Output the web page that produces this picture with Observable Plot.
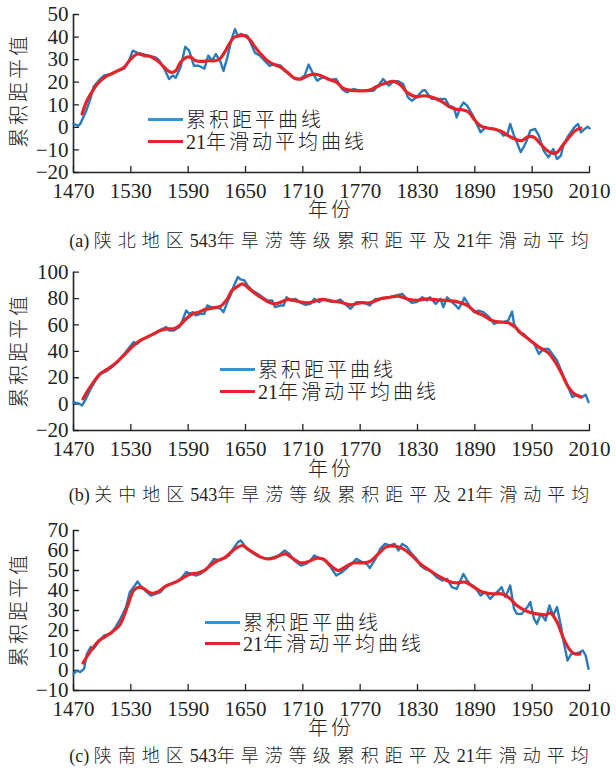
<!DOCTYPE html>
<html>
<head>
<meta charset="utf-8">
<script src="https://cdn.jsdelivr.net/npm/d3@7"></script>
<script src="https://cdn.jsdelivr.net/npm/@observablehq/plot@0.6"></script>
<style>
  html, body { margin: 0; padding: 0; background: #ffffff; }
  #wrap { position: relative; width: 616px; height: 769px; overflow: hidden; background: #fff;
          font-family: "Liberation Serif", "Noto Sans CJK SC", serif; color: #222; }
  .abs { position: absolute; white-space: nowrap; }
  .cjk { font-family: "Noto Sans CJK SC", sans-serif; font-weight: 300; }
</style>
</head>
<body>
<div id="wrap"></div>
<script>
// ---------------- data ----------------
const xTicks = [1470, 1530, 1590, 1650, 1710, 1770, 1830, 1890, 1950, 2010];
const legendBlue = "累积距平曲线";
const legendRed = "21年滑动平均曲线";
const yLabel = "累积距平值";
const xLabel = "年份";

// (a) 陕北
const northYears = [1470,1475,1477,1483,1488,1491,1497,1502,1509,1516,1523,1528,1532,1537,1542,1549,1556,1560,1565,1570,1574,1577,1582,1587,1591,1596,1601,1607,1611,1615,1619,1624,1627,1631,1635,1639,1642,1645,1648,1652,1655,1660,1665,1670,1675,1680,1687,1691,1697,1702,1707,1712,1716,1720,1725,1730,1735,1739,1745,1751,1756,1763,1770,1777,1784,1789,1794,1800,1805,1810,1815,1820,1824,1829,1835,1838,1842,1845,1850,1856,1859,1863,1868,1871,1875,1878,1882,1885,1889,1892,1896,1901,1906,1911,1917,1920,1924,1927,1931,1934,1938,1941,1945,1948,1953,1957,1962,1967,1972,1976,1980,1983,1988,1994,1998,2001,2005,2008,2010];
const northCum = [1.5,0.7,1.5,7,13,18,21,23,23.6,25,26,29.5,34,33,32.5,31.7,31,29.5,26,21.4,23,22,26.6,35.7,34,27.3,27.3,26,31.8,29.5,32.5,28.8,25,31,38.4,43.5,40.6,41.4,41,40.6,37.7,33,31.8,29.5,27.3,28,27.3,25,23,21.4,21.4,23,27.8,24.4,20.7,22,22,21,21.4,17,15.5,17,16.2,16.2,16.2,18.5,21.4,18.5,20.4,20.4,19.2,13.3,11.8,13.3,16.2,16.5,14,12.6,12.6,12.6,12.6,9.6,8.9,4.4,8.9,11,9.6,7.4,4.4,1.5,-2.2,0,-0.7,-0.7,-2.2,-3.7,-3,1.5,-3.7,-6.6,-11,-8.9,-5.2,-1.5,-0.7,-3.7,-10.3,-13.3,-9.6,-14,-12.6,-7.4,-3.7,0,1.5,-2.2,-0.7,0.3,-0.5];
const northMAYears = [1479,1484,1490,1495,1502,1509,1516,1523,1530,1537,1544,1551,1558,1565,1572,1577,1582,1588,1593,1598,1604,1611,1618,1623,1628,1633,1638,1644,1649,1654,1659,1666,1673,1680,1687,1694,1701,1708,1715,1722,1729,1736,1745,1752,1759,1770,1780,1787,1796,1805,1812,1819,1828,1836,1843,1854,1863,1870,1878,1884,1889,1896,1903,1910,1918,1925,1932,1939,1946,1952,1959,1965,1972,1976,1983,1990,1995,2001];
const northMA = [5.9,11.8,16.2,19.2,22,23.6,25,26.6,30.3,32.5,31.8,31.3,29.5,26.6,24.4,25.1,28.8,31,31,29.5,29.2,29.5,29.5,30.3,33.2,36.9,39.9,40.6,40.6,39.1,36.2,32.5,29.5,27.8,26.6,24.4,21.9,21.4,22.9,23.6,22.9,21.4,20,17.4,16.5,16.2,16.5,18,19.5,20.4,18.9,15.5,13.6,14,13.6,11.8,9.2,8.1,7.7,6.6,3.7,0.7,-0.3,-0.7,-1.8,-3.7,-5.2,-5.9,-4.1,-4.4,-7.4,-10,-11.5,-11.1,-7.4,-3.7,-1.5,-0.3];

// (b) 关中
const centralYears = [1470,1476,1479,1483,1488,1493,1498,1504,1509,1516,1523,1530,1533,1537,1540,1547,1554,1561,1567,1570,1575,1581,1584,1588,1591,1595,1598,1603,1607,1610,1614,1619,1624,1627,1631,1635,1638,1642,1645,1649,1652,1657,1663,1668,1673,1678,1681,1687,1690,1693,1697,1702,1708,1713,1718,1722,1727,1732,1738,1744,1749,1754,1760,1766,1773,1780,1786,1791,1796,1801,1808,1814,1819,1824,1829,1835,1840,1843,1849,1854,1857,1861,1866,1870,1873,1877,1879,1884,1889,1894,1899,1905,1910,1915,1920,1925,1929,1931,1936,1941,1946,1952,1957,1962,1967,1971,1976,1981,1987,1992,1997,2002,2006,2009];
const centralCum = [1.5,0.3,-1,4,11.6,18,23,24.8,27.3,31.8,38,44.5,47,45.7,48.3,50.8,53.3,56.3,58.4,55.8,55.8,58.4,63.4,71,68.5,69.7,67.2,68.5,68.5,74.8,73.5,73.5,72.3,69.7,77.3,83.6,90,96.3,94.5,93.7,90,86.2,83.6,81,78.6,78.6,73.5,74.8,74.8,81,78.6,79.8,76.8,75.3,76,79.8,77.3,79.8,77.8,77.8,79.3,76,72.3,77.3,77.3,74.8,79.8,79.8,80.3,81,82.4,83.6,79.8,76.8,77.3,81,78.6,81,76,79.8,73.5,81,77.3,74.8,72.3,77.3,80.6,74.8,69.7,70.9,69.7,65.9,60.9,62.2,62.2,63.4,70.2,60.9,54.6,53.3,49.5,45.7,38.1,41.9,41.9,38.1,33.1,24.3,14.1,5.3,7.1,5.3,7.1,1.5];
const centralMAYears = [1480,1484,1491,1498,1505,1512,1519,1526,1533,1540,1547,1554,1561,1568,1575,1581,1588,1595,1601,1608,1615,1624,1631,1636,1642,1647,1652,1659,1666,1673,1680,1687,1694,1701,1708,1715,1722,1729,1736,1743,1749,1760,1770,1780,1791,1801,1810,1819,1829,1840,1850,1861,1873,1882,1891,1899,1908,1917,1925,1932,1939,1948,1957,1966,1973,1980,1987,1994,2001];
const centralMA = [4,9.1,16.7,23,26.3,29.8,34.4,39.4,44.5,48.3,50.8,53.3,55.8,57.1,57.1,59.6,64.7,68.5,69.7,71.8,72.8,74.3,79.8,86.2,89.4,91.2,88.7,84.4,81,77.8,76,77.3,79.3,78.6,77.3,76.8,77.8,79.3,78.8,77.8,77.3,75.3,76.8,76.8,79.8,81,81.9,79.8,78.6,79.8,79,78.6,77.3,74.8,69.7,67.2,63.4,62.2,61.6,58.4,53.3,48.3,43.2,39.4,33.1,24.3,14.1,7.8,5.3];

// (c) 陕南
const southYears = [1470,1474,1477,1481,1484,1488,1491,1497,1502,1509,1514,1519,1525,1529,1533,1537,1540,1545,1551,1556,1561,1567,1572,1577,1582,1588,1593,1598,1603,1607,1612,1617,1622,1628,1633,1636,1642,1645,1649,1654,1659,1666,1673,1680,1685,1691,1696,1701,1708,1713,1718,1722,1727,1732,1739,1745,1751,1756,1761,1766,1772,1777,1780,1786,1791,1796,1801,1806,1810,1814,1819,1824,1829,1833,1838,1843,1850,1856,1861,1866,1871,1875,1878,1882,1885,1890,1896,1901,1906,1911,1915,1918,1922,1927,1931,1934,1939,1945,1948,1952,1955,1959,1964,1968,1972,1976,1980,1983,1987,1991,1995,2000,2003,2006,2009];
const southCum = [-1.7,0,-0.8,0.8,8.3,11.7,10.8,15,17.5,18.3,21.7,25.8,31.7,39.2,41.7,44.5,42.5,40,37.5,38.3,39.2,42.5,43.3,44.2,45.8,49.2,48.3,47.5,48.3,50,52.5,55.8,55,56.2,57.5,60,64.2,65,62.5,60,58.3,56.7,55.8,56.7,57.5,60,58.3,55,52.5,53.3,55,57.5,56.2,55.8,51.7,47.5,49.2,51.2,53.3,55.8,54.2,53.3,51.2,55.8,60.8,63.3,62.5,63.3,60,63.3,61.7,58.3,55.8,52.5,50.8,50,46.7,45,45.8,41.7,40.8,45,48.3,45,43.3,41.7,37.5,39.2,35.8,38.3,40,41.7,36.7,42.5,30.8,28.3,28.3,31.7,34.2,25.8,23.3,28.3,25,32.5,27.5,31.7,22.5,14.2,5,8.3,8.3,9.2,10,7.5,0.8];
const southMAYears = [1480,1486,1491,1497,1504,1511,1518,1523,1528,1533,1539,1544,1551,1558,1565,1572,1579,1586,1593,1600,1607,1614,1621,1628,1635,1642,1647,1652,1659,1666,1673,1680,1687,1692,1699,1708,1716,1725,1732,1739,1747,1754,1763,1773,1780,1789,1797,1806,1815,1824,1833,1843,1854,1863,1871,1880,1889,1898,1908,1918,1925,1934,1945,1955,1964,1969,1976,1983,1990,1995,2000];
const southMA = [3.8,8.3,11.7,15,17.2,19.5,22.5,27.5,34.2,40,41.7,40.8,38.7,39.2,41.7,43.3,44.7,46.7,48.3,48.7,50,52.8,55,56.3,59.2,61.7,62.5,60.8,58.7,56.7,55.8,56.3,57.8,58.3,56.2,53.8,54.5,56.2,55.5,52.5,50,51.7,53.8,53.8,54.5,58.3,61.7,62.2,60.8,57.5,53.3,50,46.7,44.5,43.8,44.2,41.7,39.2,38.3,38.3,36.7,32.5,29.5,28.3,27.8,28.8,24.2,15.8,10,8.3,8.3];

const panels = [
  {years: northYears, cum: northCum, maYears: northMAYears, ma: northMA,
   yDomain: [-20, 50], yTicks: [-20,-10,0,10,20,30,40,50],
   caption: "(a) 陕北地区543年旱涝等级累积距平及21年滑动平均"},
  {years: centralYears, cum: centralCum, maYears: centralMAYears, ma: centralMA,
   yDomain: [-20, 100], yTicks: [-20,0,20,40,60,80,100],
   caption: "(b) 关中地区543年旱涝等级累积距平及21年滑动平均"},
  {years: southYears, cum: southCum, maYears: southMAYears, ma: southMA,
   yDomain: [-10, 70], yTicks: [-10,0,10,20,30,40,50,60,70],
   caption: "(c) 陕南地区543年旱涝等级累积距平及21年滑动平均"}
];

// ---------------- layout (pixels) ----------------
const layout = [
  {top: 0,   height: 200, marginTop: 14,   capY: 239, xlabY: 209, ylabY: 90,  legX: 148, legY1: 119, legY2: 141},
  {top: 258, height: 200, marginTop: 13.7, capY: 493, xlabY: 468, ylabY: 350, legX: 220, legY1: 369, legY2: 391},
  {top: 516, height: 202, marginTop: 14,   capY: 754, xlabY: 727, ylabY: 609, legX: 205, legY1: 622, legY2: 643}
];
const BLUE = "#2b7bba", BLUE_LEG = "#2f95d4", RED = "#e3242b", INK = "#222";
const wrap = document.getElementById("wrap");
const tickShape = {draw(context, l) { context.moveTo(0, 0); context.lineTo(0, -l); }};

function cjkWrap(s, spacing) {
  return s.replace(/([\u3400-\u9fff]+)/g, '<span class="cjk" style="letter-spacing:' + spacing + 'px">$1</span>');
}
function addText(html, left, cy, size, spacing, extra = "") {
  const d = document.createElement("div");
  d.className = "abs";
  d.style.cssText = `left:${left}px;top:${cy - size / 2}px;font-size:${size}px;line-height:${size}px;${extra}`;
  d.innerHTML = cjkWrap(html, spacing);
  wrap.appendChild(d);
  return d;
}
function addLine(x, y, w, color, thick) {
  const d = document.createElement("div");
  d.className = "abs";
  d.style.cssText = `left:${x}px;top:${y - thick / 2}px;width:${w}px;height:${thick}px;background:${color};`;
  wrap.appendChild(d);
}

panels.forEach((p, i) => {
  const L = layout[i];
  const cumData = p.years.map((y, k) => ({year: y, v: p.cum[k]}));
  const maData = p.maYears.map((y, k) => ({year: y, v: p.ma[k]}));
  const chart = Plot.plot({
    width: 616,
    height: L.height,
    marginLeft: 73,
    marginRight: 27,
    marginTop: L.marginTop,
    marginBottom: 28,
    x: {domain: [1470, 2010]},
    y: {domain: p.yDomain},
    style: {fontFamily: "Liberation Serif, serif", fontSize: "21px", color: INK, background: "transparent", overflow: "visible"},
    marks: [
      Plot.axisX({ticks: xTicks, tickFormat: d => String(d), tickSize: 0, tickPadding: 11, label: null}),
      Plot.axisY({ticks: p.yTicks, tickFormat: d => (d < 0 ? "\u2212" + Math.abs(d) : String(d)), tickSize: 0, tickPadding: 5, label: null}),
      Plot.vector(xTicks, {x: d => d, frameAnchor: "bottom", length: 6, rotate: 0, anchor: "start", shape: tickShape, stroke: INK, strokeWidth: 1.3}),
      Plot.vector(p.yTicks, {y: d => d, frameAnchor: "left", length: 5, rotate: 90, anchor: "start", shape: tickShape, stroke: INK, strokeWidth: 1.3}),
      Plot.ruleY([p.yDomain[0]], {stroke: INK, strokeWidth: 1.6}),
      Plot.ruleX([1470], {stroke: INK, strokeWidth: 1.6}),
      Plot.lineY(cumData, {x: "year", y: "v", stroke: BLUE, strokeWidth: 2.4, curve: "linear"}),
      Plot.lineY(maData, {x: "year", y: "v", stroke: RED, strokeWidth: 3.2, curve: "catmull-rom"})
    ]
  });
  chart.style.position = "absolute";
  chart.style.left = "0px";
  chart.style.top = L.top + "px";
  wrap.appendChild(chart);

  addText(yLabel, 18, L.ylabY, 20, 3, "transform:translate(-50%,0) rotate(-90deg);transform-origin:50% 50%;");
  addText(xLabel, 331, L.xlabY, 20, 3, "transform:translateX(-50%);");
  addText(p.caption, 332, L.capY, 18, 6, "transform:translateX(-50%);");
  addLine(L.legX, L.legY1, 35, BLUE_LEG, 3);
  addLine(L.legX, L.legY2, 35, RED, 3);
  addText(legendBlue, L.legX + 38, L.legY1, 20, 3);
  addText(legendRed, L.legX + 38, L.legY2, 20, 3);
});
</script>
</body>
</html>
